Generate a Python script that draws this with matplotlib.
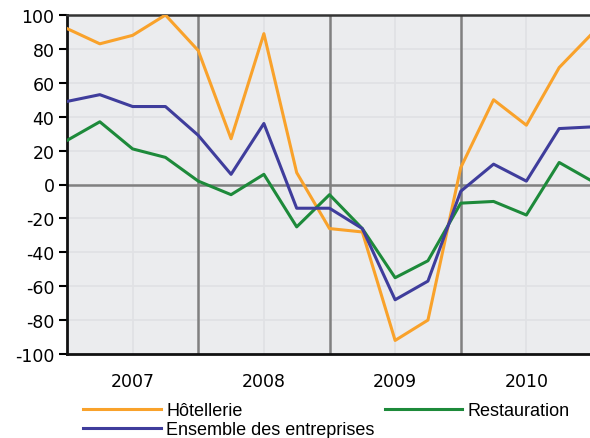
import numpy as np
import matplotlib
matplotlib.use('Agg')
import matplotlib.pyplot as plt

plt.rcParams['axes.unicode_minus'] = False

# quarterly balances of opinion, 2007 Q1 .. 2011 Q1
quarters = np.arange(17)
years = ['2007', '2008', '2009', '2010']

hotellerie = [92, 83, 88, 100, 79, 27, 89, 7, -26, -28, -92, -80, 10, 50, 35, 69, 89]
restauration = [26, 37, 21, 16, 2, -6, 6, -25, -6, -26, -55, -45, -11, -10, -18, 13, 2]
ensemble = [49, 53, 46, 46, 29, 6, 36, -14, -14, -26, -68, -57, -4, 12, 2, 33, 34]

c_hot = '#f9a22b'
c_res = '#1d8a3a'
c_ens = '#3f3d9c'

fig = plt.figure(figsize=(5.9, 4.39), dpi=100)
ax = fig.add_axes([67/590, 1-355/439, 525/590, 339/439])
ax.set_facecolor('#ebecee')

ax.set_xlim(0, 16)
ax.set_ylim(-100, 100)
ax.set_yticks(np.arange(-100, 101, 20))

# grid
for y in np.arange(-80, 100, 20):
    ax.axhline(y, color='#e0e1e4', lw=1.2, zorder=1)
for x in [2, 6, 10, 14]:
    ax.axvline(x, color='#e0e1e4', lw=1.2, zorder=1)
for x in [4, 8, 12]:
    ax.axvline(x, color='#808080', lw=1.8, zorder=2)
ax.axhline(0, color='#808080', lw=1.8, zorder=2)

l1, = ax.plot(quarters, hotellerie, color=c_hot, lw=2.2, zorder=3)
l2, = ax.plot(quarters, restauration, color=c_res, lw=2.2, zorder=3)
l3, = ax.plot(quarters, ensemble, color=c_ens, lw=2.2, zorder=4)

ax.set_xticks([2, 6, 10, 14])
ax.set_xticklabels(years)
ax.tick_params(axis='x', length=0, pad=13, labelsize=12.5)
ax.tick_params(axis='y', length=6, width=1.5, direction='out', labelsize=12.5, pad=3)

ax.spines['right'].set_visible(False)
for s in ['left', 'bottom', 'top']:
    ax.spines[s].set_linewidth(2)
    ax.spines[s].set_color('#111111')
ax.spines['top'].set_linewidth(1.8)
ax.spines['top'].set_color('#333333')

leg = fig.legend([l1, l3, l2], ['Hôtellerie', 'Ensemble des entreprises', 'Restauration'],
                 ncol=2, loc='upper left', bbox_to_anchor=(76/590, 1-396/439),
                 frameon=False, handlelength=4.3, handletextpad=0.3,
                 columnspacing=0.55, labelspacing=0.12, borderaxespad=0,
                 prop={'family': 'Liberation Sans', 'size': 13})

plt.savefig('out.png', dpi=100)
